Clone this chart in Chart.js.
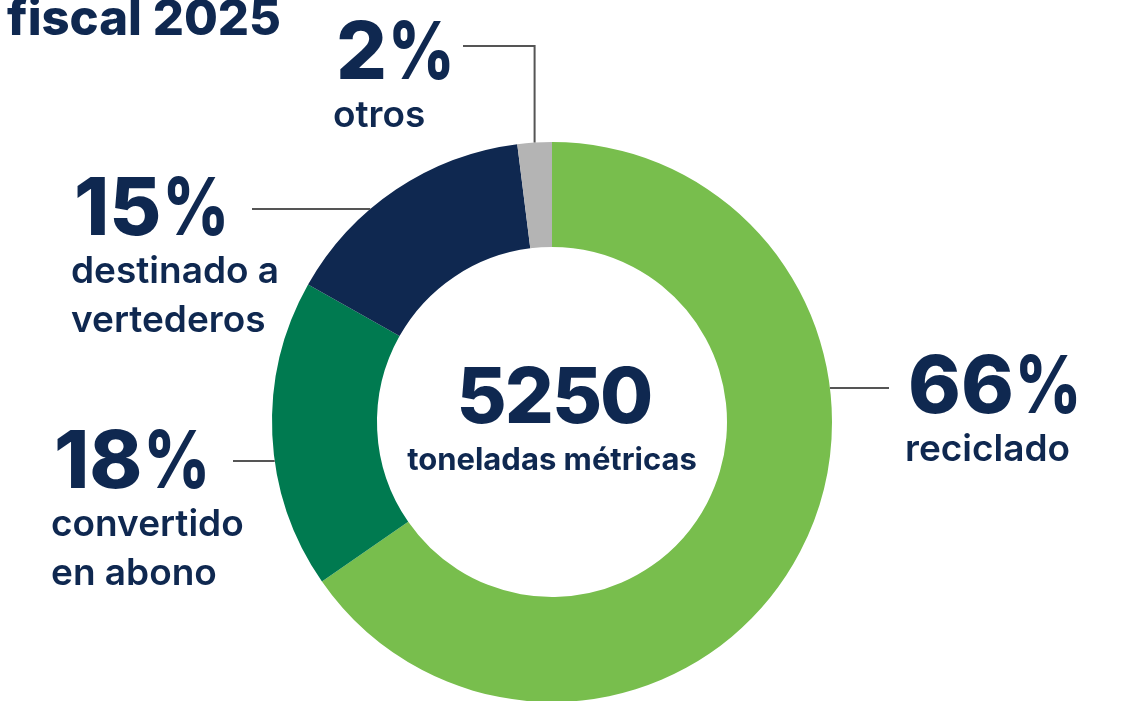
<!DOCTYPE html>
<html>
<head>
<meta charset="utf-8">
<script src="https://cdn.jsdelivr.net/npm/chart.js@4/dist/chart.umd.min.js"></script>
<style>
  html, body { margin: 0; padding: 0; background: #ffffff; overflow: hidden; }
  #wrap { width: 1129px; height: 720px; }
</style>
</head>
<body>
<div id="wrap"><canvas id="myChart" width="1129" height="720"></canvas></div>
<script>
'use strict';

// waste by destination, fiscal 2025
const categories = ['reciclado', 'convertido en abono', 'destinado a vertederos', 'otros'];
const shares = [66, 18, 15, 2];
const colors = ['#78be4d', '#007a50', '#0f2850', '#b4b4b4'];
const totalTonnes = 5250;

// label blocks: big number, the lines under it, and the y of each leader line
const labelLines = [['reciclado'], ['convertido', 'en abono'], ['destinado a', 'vertederos'], ['otros']];
const labelPos = [
  { x: 908, y: 413, lineY: 388, lineTo: 889 },
  { x: 54, y: 488, lineY: 461, lineTo: 233 },
  { x: 74, y: 235, lineY: 209, lineTo: 252 },
  { x: 336, y: 79, lineY: 46, lineTo: 463 }
];

const INK = '#0f2850';
const LEADER = '#555555';

// big "NN%" with a narrower percent sign
function drawPercent(ctx, v, x, y) {
  ctx.font = '800 80px Inter';
  const num = String(v);
  ctx.fillText(num, x, y);
  const w = ctx.measureText(num).width;
  ctx.save();
  ctx.translate(x + w + 1, y);
  ctx.scale(0.81, 1);
  ctx.fillText('%', 0, 0);
  ctx.restore();
}

const labelsPlugin = {
  id: 'labelsPlugin',
  afterDraw(chart) {
    const ctx = chart.ctx;
    const arcs = chart.getDatasetMeta(0).data;
    const cx = arcs[0].x, cy = arcs[0].y, R = arcs[0].outerRadius;
    ctx.save();

    // title, cut off by the top edge
    ctx.fillStyle = INK;
    ctx.textAlign = 'left';
    ctx.textBaseline = 'alphabetic';
    ctx.font = '800 49px Inter';
    ctx.fillText('fiscal 2025', 7, 35);

    // centre total
    ctx.textAlign = 'center';
    ctx.font = '800 77px Inter';
    ctx.letterSpacing = '-2px';
    ctx.fillText(String(totalTonnes), cx + 2, 423);
    ctx.letterSpacing = '0px';
    ctx.font = '700 31px Inter';
    ctx.fillText('toneladas métricas', cx, 470);

    // leader lines
    ctx.strokeStyle = LEADER;
    ctx.lineWidth = 2;
    arcs.forEach(function (arc, i) {
      const p = labelPos[i];
      ctx.beginPath();
      if (i === 3) {
        // small slice at the top: elbow line down to the arc
        const mid = (arc.startAngle + arc.endAngle) / 2;
        const ex = cx + R * Math.cos(mid);
        const ey = cy + R * Math.sin(mid);
        ctx.moveTo(p.lineTo, p.lineY);
        ctx.lineTo(ex, p.lineY);
        ctx.lineTo(ex, ey);
      } else {
        const dy = p.lineY - cy;
        const dx = Math.sqrt(R * R - dy * dy);
        const ex = p.lineTo > cx ? cx + dx : cx - dx;
        ctx.moveTo(ex, p.lineY);
        ctx.lineTo(p.lineTo, p.lineY);
      }
      ctx.stroke();
    });

    // percentages and their captions
    ctx.textAlign = 'left';
    ctx.fillStyle = INK;
    shares.forEach(function (v, i) {
      const p = labelPos[i];
      drawPercent(ctx, v, p.x, p.y);
      ctx.font = '600 37px Inter';
      labelLines[i].forEach(function (t, k) {
        ctx.fillText(t, p.x - 3, p.y + 48 + k * 49);
      });
    });
    ctx.restore();
  }
};

new Chart(document.getElementById('myChart'), {
  type: 'doughnut',
  data: {
    labels: categories,
    datasets: [{
      data: shares,
      backgroundColor: colors,
      borderWidth: 0,
      hoverOffset: 0
    }]
  },
  options: {
    responsive: false,
    animation: false,
    cutout: '62.5%',
    layout: { padding: { left: 272, right: 297, top: 142, bottom: 18 } },
    plugins: {
      legend: { display: false },
      tooltip: { enabled: false }
    }
  },
  plugins: [labelsPlugin]
});
</script>
</body>
</html>
